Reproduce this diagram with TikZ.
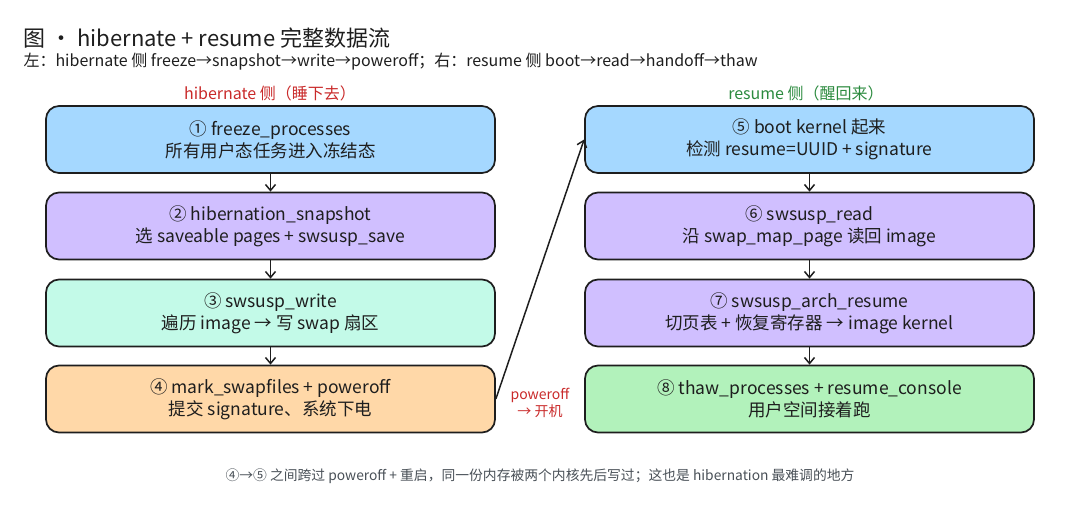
\documentclass[tikz,border=0pt]{standalone}
\usepackage{fontspec}
\setmainfont{Noto Sans CJK SC}
\usetikzlibrary{arrows.meta}

\definecolor{ink}{HTML}{1E1E1E}
\definecolor{cblue}{HTML}{A5D8FF}
\definecolor{cviolet}{HTML}{D0BFFF}
\definecolor{cmint}{HTML}{C3FAE8}
\definecolor{cpeach}{HTML}{FFD8A8}
\definecolor{cgreen}{HTML}{B2F2BB}
\definecolor{hibred}{HTML}{C92A2A}
\definecolor{resgreen}{HTML}{2B8A3E}
\definecolor{notegray}{HTML}{495057}

\tikzset{
  stepbox/.style={draw=ink, line width=1.7pt, rounded corners=13pt,
    minimum width=449pt, minimum height=67pt, align=center, text=ink,
    font=\fontsize{17.5}{22}\selectfont},
  flow/.style={draw=ink, line width=1.5pt, -{Straight Barb[length=6pt,width=10pt]}},
}

\begin{document}
\begin{tikzpicture}[x=1pt,y=-1pt]

                \useasboundingbox (0,0) rectangle (1080,510);

                % title
                \node[anchor=west, text=ink, font=\fontsize{22}{24}\selectfont] (title) at (20,38) {图 · hibernate + resume 完整数据流};
                \node[anchor=west, text=ink, font=\fontsize{16}{18}\selectfont] (sub) at (20,62) {左：hibernate 侧 freeze→snapshot→write→poweroff；右：resume 侧 boot→read→handoff→thaw};

                \node[text=hibred, font=\fontsize{16}{18}\selectfont] (hiblbl) at (270,93) {hibernate 侧（睡下去）};
                \node[text=resgreen, font=\fontsize{16}{18}\selectfont] (reslbl) at (806,93) {resume 侧（醒回来）};

                % hibernate side
                \node[stepbox, fill=cblue] (s1) at (270.5,139.5) {① freeze\_processes\\所有用户态任务进入冻结态};
                \node[stepbox, fill=cviolet] (s2) at (270.5,226) {② hibernation\_snapshot\\选 saveable pages + swsusp\_save};
                \node[stepbox, fill=cmint] (s3) at (270.5,313) {③ swsusp\_write\\遍历 image → 写 swap 扇区};
                \node[stepbox, fill=cpeach] (s4) at (270.5,399) {④ mark\_swapfiles + poweroff\\提交 signature、系统下电};

                % resume side
                \node[stepbox, fill=cblue] (s5) at (809.5,139.5) {⑤ boot kernel 起来\\检测 resume=UUID + signature};
                \node[stepbox, fill=cviolet] (s6) at (809.5,226) {⑥ swsusp\_read\\沿 swap\_map\_page 读回 image};
                \node[stepbox, fill=cviolet] (s7) at (809.5,313) {⑦ swsusp\_arch\_resume\\切页表 + 恢复寄存器 → image kernel};
                \node[stepbox, fill=cgreen] (s8) at (809.5,399) {⑧ thaw\_processes + resume\_console\\用户空间接着跑};

                \draw[flow] (s1) -- (s2);
                \draw[flow] (s2) -- (s3);
                \draw[flow] (s3) -- (s4);

                \draw[flow] (s5) -- (s6);
                \draw[flow] (s6) -- (s7);
                \draw[flow] (s7) -- (s8);

                \draw[flow] (s4.east) -- (s5.west);
                \node[text=hibred, align=center, font=\fontsize{14}{17}\selectfont] (poweron) at (540,403) {poweroff\\→ 开机};

                % note
                \node[text=notegray, font=\fontsize{13.8}{16}\selectfont] (note) at (540,476) {④→⑤ 之间跨过 poweroff + 重启，同一份内存被两个内核先后写过；这也是 hibernation 最难调的地方};

\end{tikzpicture}
\end{document}
